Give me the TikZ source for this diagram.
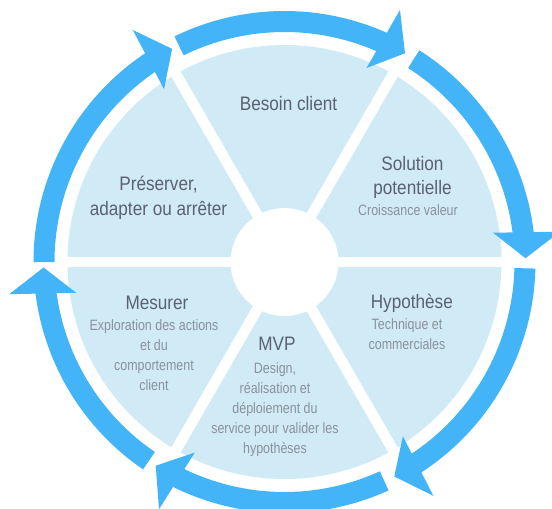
\documentclass[tikz,border=0pt]{standalone}
\usepackage{fontspec}
\setmainfont{Liberation Sans}[FakeStretch=0.88]
\newfontfamily\subfont{Liberation Sans}[FakeStretch=0.83]
\definecolor{ringblue}{HTML}{42B4F7}
\definecolor{sectorblue}{HTML}{D0EBF6}
\definecolor{titlegray}{HTML}{5C6070}
\definecolor{descgray}{HTML}{8C909C}
\begin{document}
\begin{tikzpicture}[x=1pt,y=1pt,
  title/.style={inner sep=0pt, anchor=base, align=center, text=titlegray,
    font=\fontsize{19.5}{24.5}\selectfont},
  desc/.style={inner sep=0pt, anchor=base, align=center, text=descgray,
    font=\subfont\fontsize{15}{20}\selectfont}]
\clip (0,0) rectangle (552,-509);
\begin{scope}[shift={(284.5,-262)}]
  \fill[sectorblue] (0,0) circle[radius=217];
  \foreach \a in {0,60,120}
    \draw[white, line width=10.6pt] (\a:222) -- (\a+180:222);
  \fill[white] (0,0) circle[radius=54];
  \foreach \sa/\ta in {180/117.8, 116/60, 57.5/0.9, -1.5/-62.9, -65.5/-122.3, -124.3/-178.7}{
    \pgfmathsetmacro\ba{\ta+5.5}
    \fill[ringblue] (\sa:251) arc[start angle=\sa, end angle=\ba, radius=251]
      -- (\ba:230) arc[start angle=\ba, end angle=\sa, radius=230] -- cycle;
    \fill[ringblue, rotate=\ta] (241,0) -- (209,26) -- (276,26) -- cycle;
  }
\end{scope}
% multi-line nodes: base anchor sits on the last line's baseline
\node[title] (besoin) at (288.5,-110.5) {Besoin client};
\node[title] (solution) at (412.5,-194.5) {Solution\\potentielle};
\node[desc] (solutiond) at (408,-215.7) {Croissance valeur};
\node[title] (hypo) at (411.8,-308.3) {Hypothèse};
\node[desc] (hypod) at (407,-349) {Technique et\\commerciales};
\node[title] (mvp) at (277,-350) {MVP};
\node[desc] (mvpd) at (275,-453.3) {Design,\\réalisation et\\déploiement du\\service pour valider les\\hypothèses};
\node[title] (mesurer) at (157,-309.3) {Mesurer};
\node[desc] (mesurerd) at (154,-390) {Exploration des actions\\et du\\comportement\\client};
\node[title] (preserver) at (158.5,-215.2) {Préserver,\\adapter ou arrêter};
\end{tikzpicture}
\end{document}
